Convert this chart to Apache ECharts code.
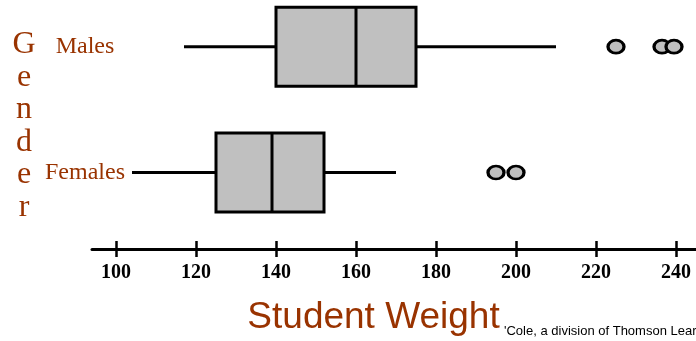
<!DOCTYPE html>
<html><head><meta charset="utf-8">
<script src="https://cdn.jsdelivr.net/npm/echarts@6/dist/echarts.min.js"></script>
<style>html,body{margin:0;padding:0;background:#fff}#c{width:696px;height:341px}</style>
</head><body><div id="c"></div>
<script>
const categories = ['Males', 'Females'];
const boxMin = [117, 104];
const boxQ1 = [140, 125];
const boxMedian = [160, 139];
const boxQ3 = [175, 152];
const boxMax = [210, 170];
const outlierGender = ['Males', 'Males', 'Males', 'Females', 'Females'];
const outlierWeight = [225, 236.5, 239.5, 195, 200];
const xTicks = [100, 120, 140, 160, 180, 200, 220, 240];

const BROWN = '#993300';
const boxData = categories.map((c, i) => [i, boxMin[i], boxQ1[i], boxMedian[i], boxQ3[i], boxMax[i]]);
const outlierData = outlierWeight.map((w, i) => [w, outlierGender[i]]);

function renderBox(params, api) {
  const c = api.value(0);
  const pMin = api.coord([api.value(1), c]);
  const pQ1 = api.coord([api.value(2), c]);
  const pMed = api.coord([api.value(3), c]);
  const pQ3 = api.coord([api.value(4), c]);
  const pMax = api.coord([api.value(5), c]);
  const h = 79;
  const y = pMed[1];
  const ls = { stroke: '#000', lineWidth: 3 };
  return {
    type: 'group',
    children: [
      { type: 'line', shape: { x1: pMin[0], y1: y, x2: pQ1[0], y2: y }, style: ls },
      { type: 'line', shape: { x1: pQ3[0], y1: y, x2: pMax[0], y2: y }, style: ls },
      { type: 'rect', shape: { x: pQ1[0], y: y - h / 2, width: pQ3[0] - pQ1[0], height: h },
        style: { fill: '#c0c0c0', stroke: '#000', lineWidth: 3 } },
      { type: 'line', shape: { x1: pMed[0], y1: y - h / 2, x2: pMed[0], y2: y + h / 2 }, style: ls }
    ]
  };
}

const chart = echarts.init(document.getElementById('c'), null, { renderer: 'canvas' });
chart.setOption({
  animation: false,
  backgroundColor: '#fff',
  grid: { left: 92, right: 0, top: 46.7, bottom: 168.5, containLabel: false },
  xAxis: [{
    type: 'value', min: 94, max: 245, position: 'bottom', offset: 76.5,
    splitLine: { show: false },
    axisLine: { show: true, lineStyle: { color: '#000', width: 3 } },
    axisTick: { show: true, inside: false, length: 8, customValues: xTicks, lineStyle: { color: '#000', width: 2.5 } },
    axisLabel: { customValues: xTicks, margin: 14, fontFamily: 'Liberation Serif', fontWeight: 'bold', fontSize: 20, color: '#000' }
  }, {
    type: 'value', min: 94, max: 245, position: 'bottom', offset: 76.5,
    splitLine: { show: false },
    axisLine: { show: false },
    axisTick: { show: true, inside: true, length: 8, customValues: xTicks, lineStyle: { color: '#000', width: 2.5 } },
    axisLabel: { show: false }
  }],
  yAxis: {
    type: 'category', data: categories, inverse: true, boundaryGap: false,
    axisLine: { show: false }, axisTick: { show: false }, splitLine: { show: false },
    axisLabel: { align: 'center', margin: 7, fontFamily: 'Liberation Serif', fontSize: 24, color: BROWN }
  },
  series: [{
    type: 'custom', xAxisIndex: 0, renderItem: renderBox, clip: false,
    encode: { x: [1, 2, 3, 4, 5], y: 0 }, data: boxData, z: 2
  }, {
    type: 'scatter', xAxisIndex: 0, data: outlierData, symbol: 'circle', symbolSize: [16, 13], clip: false,
    itemStyle: { color: '#c0c0c0', borderColor: '#000', borderWidth: 3, opacity: 1 }, z: 3
  }],
  graphic: [{
    type: 'text', x: 24, y: 126,
    style: { text: 'G\ne\nn\nd\ne\nr', fontFamily: 'Liberation Serif', fontSize: 32, lineHeight: 32.5,
      fill: BROWN, align: 'center', verticalAlign: 'middle' }
  }, {
    type: 'text', x: 373.5, y: 318,
    style: { text: 'Student Weight', fontFamily: 'Liberation Sans', fontSize: 37, fill: BROWN, align: 'center', verticalAlign: 'middle' }
  }, {
    type: 'text', x: 504, y: 331,
    style: { text: "'Cole, a division of Thomson Learning", fontFamily: 'Liberation Sans', fontSize: 13, fill: '#000', align: 'left', verticalAlign: 'middle' }
  }]
});
</script>
</body></html>
